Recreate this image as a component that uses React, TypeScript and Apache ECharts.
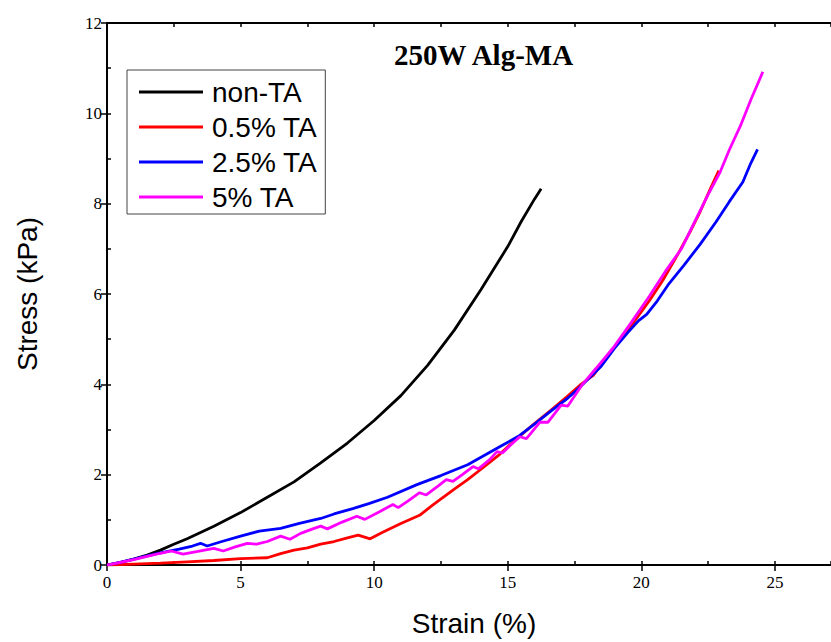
import React, { useEffect, useRef } from "react";
import * as echarts from "echarts";

const seriesNames = ["non-TA", "0.5% TA", "2.5% TA", "5% TA"];
const seriesColors = ["#000000", "#ff0000", "#0000ff", "#ff00ff"];

const nonTA: number[][] = [
  [0, 0], [0.5, 0.06], [1, 0.13], [1.5, 0.22], [2, 0.33], [2.5, 0.46], [3, 0.58],
  [4, 0.86], [5, 1.16], [6, 1.5], [7, 1.84], [8, 2.26], [9, 2.7], [10, 3.2],
  [11, 3.75], [12, 4.42], [13, 5.2], [14, 6.1], [15, 7.05], [15.5, 7.6], [16, 8.1], [16.25, 8.33],
];

const ta05: number[][] = [
  [0, 0], [1, 0.02], [2, 0.04], [3, 0.07], [4, 0.1], [5, 0.14], [6, 0.16], [6.5, 0.25],
  [7, 0.33], [7.5, 0.38], [8, 0.46], [8.5, 0.52], [9, 0.6], [9.4, 0.66], [9.85, 0.58],
  [10.3, 0.72], [11, 0.92], [11.7, 1.1], [12.2, 1.33], [13, 1.68], [13.5, 1.89], [14, 2.12],
  [14.7, 2.45], [15.3, 2.78], [16, 3.13], [16.6, 3.42], [17.2, 3.72], [17.7, 3.98], [18.2, 4.2],
  [18.9, 4.75], [19.5, 5.2], [20.3, 5.85], [20.8, 6.3], [21.35, 6.86], [21.8, 7.35], [22.2, 7.82],
  [22.6, 8.35], [22.9, 8.73],
];

const ta25: number[][] = [
  [0, 0], [0.5, 0.06], [1, 0.13], [1.5, 0.2], [2, 0.27], [2.7, 0.35], [3.2, 0.42], [3.5, 0.48],
  [3.75, 0.42], [4.3, 0.52], [5, 0.64], [5.7, 0.75], [6.5, 0.81], [7.2, 0.92], [8, 1.03],
  [8.5, 1.13], [9.2, 1.25], [9.8, 1.36], [10.5, 1.5], [11.6, 1.78], [12.5, 1.98], [13.5, 2.22],
  [14.2, 2.45], [14.8, 2.65], [15.4, 2.85], [16, 3.12], [16.6, 3.4], [17.2, 3.67], [17.6, 3.88],
  [18, 4.11], [18.5, 4.4], [19, 4.8], [19.5, 5.15], [19.9, 5.41], [20.2, 5.55], [20.6, 5.85],
  [21, 6.2], [21.6, 6.64], [22.2, 7.1], [22.8, 7.6], [23.3, 8.05], [23.8, 8.48], [24.1, 8.9],
  [24.35, 9.2],
];

const ta5: number[][] = [
  [0, 0], [0.5, 0.06], [1, 0.12], [1.5, 0.19], [2, 0.26], [2.4, 0.31], [2.85, 0.24], [3.4, 0.3],
  [4, 0.37], [4.35, 0.31], [4.8, 0.4], [5.25, 0.48], [5.6, 0.46], [6, 0.52], [6.5, 0.64],
  [6.85, 0.57], [7.25, 0.7], [7.7, 0.8], [8, 0.86], [8.25, 0.8], [8.8, 0.95], [9.35, 1.08],
  [9.65, 1.01], [10.2, 1.18], [10.7, 1.34], [10.9, 1.27], [11.3, 1.43], [11.7, 1.6], [11.95, 1.55],
  [12.4, 1.75], [12.7, 1.89], [12.95, 1.85], [13.3, 2.0], [13.7, 2.18], [13.9, 2.13], [14.3, 2.32],
  [14.6, 2.51], [14.8, 2.48], [15.1, 2.65], [15.45, 2.84], [15.7, 2.8], [16.2, 3.16], [16.5, 3.16],
  [17, 3.54], [17.25, 3.52], [17.8, 4.0], [18.3, 4.35], [18.95, 4.81], [19.6, 5.35], [20.3, 5.95],
  [20.9, 6.5], [21.5, 7.0], [22, 7.6], [22.5, 8.2], [22.95, 8.7], [23.3, 9.2], [23.7, 9.71],
  [24.1, 10.3], [24.55, 10.92],
];

const seriesData = [nonTA, ta05, ta25, ta5];

const titleText = "250W Alg-MA";
const xName = "Strain (%)";
const yName = "Stress (kPa)";

const X_MAX = 27.1;

export default function App() {
  const ref = useRef<HTMLDivElement>(null);
  useEffect(() => {
    if (!ref.current) return;
    const chart = echarts.init(ref.current, null, { renderer: "svg" });
    const serif = "'Liberation Serif', 'Times New Roman', serif";
    const sans = "'Liberation Sans', Arial, sans-serif";
    const labelStyle = { fontFamily: serif, fontSize: 17, color: "#000" };
    chart.setOption({
      animation: false,
      backgroundColor: "#fff",
      title: {
        text: titleText,
        left: 389,
        top: 35,
        textStyle: { fontFamily: serif, fontWeight: "bold", fontSize: 29, color: "#000" },
      },
      legend: {
        orient: "vertical",
        left: 127,
        top: 70,
        icon: "rect",
        itemWidth: 64,
        itemHeight: 3,
        itemGap: 7,
        padding: [8, 8, 3, 12],
        borderColor: "#444",
        borderWidth: 1,
        backgroundColor: "#fff",
        textStyle: { fontFamily: sans, fontSize: 28, color: "#000", lineHeight: 28, padding: [0, 0, 0, 4] },
        data: seriesNames,
      },
      grid: { left: 107, top: 23, right: 0, height: 546, containLabel: false },
      xAxis: [
        {
          type: "value",
          position: "bottom",
          min: 0,
          max: X_MAX,
          interval: 5,
          name: xName,
          nameLocation: "middle",
          nameGap: 44,
          nameTextStyle: { fontFamily: sans, fontSize: 28, color: "#000", padding: [0, 0, 0, 10] },
          axisLine: { show: true, onZero: false, lineStyle: { color: "#000", width: 2 } },
          axisTick: { show: true, inside: false, length: 6, lineStyle: { color: "#000", width: 1.5 } },
          axisLabel: { ...labelStyle, margin: 9, showMaxLabel: false },
          splitLine: { show: false },
        },
        {
          type: "value",
          position: "bottom",
          min: 0,
          max: X_MAX,
          interval: 2.5,
          axisLine: { show: false, onZero: false },
          axisTick: { show: true, inside: true, length: 4, lineStyle: { color: "#000", width: 1.5 } },
          axisLabel: { show: false },
          splitLine: { show: false },
        },
        {
          type: "value",
          position: "top",
          min: 0,
          max: X_MAX,
          interval: 2.5,
          axisLine: { show: true, onZero: false, lineStyle: { color: "#000", width: 2 } },
          axisTick: { show: true, inside: true, length: 4, lineStyle: { color: "#000", width: 1.5 } },
          axisLabel: { show: false },
          splitLine: { show: false },
        },
      ],
      yAxis: [
        {
          type: "value",
          position: "left",
          min: 0,
          max: 12,
          interval: 2,
          name: yName,
          nameLocation: "middle",
          nameGap: 66,
          nameRotate: 90,
          nameTextStyle: { fontFamily: sans, fontSize: 28, color: "#000" },
          axisLine: { show: true, onZero: false, lineStyle: { color: "#000", width: 2 } },
          axisTick: { show: true, inside: false, length: 6, lineStyle: { color: "#000", width: 1.5 } },
          axisLabel: { ...labelStyle, margin: 5 },
          splitLine: { show: false },
        },
        {
          type: "value",
          position: "left",
          min: 0,
          max: 12,
          interval: 1,
          axisLine: { show: false, onZero: false },
          axisTick: { show: true, inside: true, length: 4, lineStyle: { color: "#000", width: 1.5 } },
          axisLabel: { show: false },
          splitLine: { show: false },
        },
      ],
      series: seriesNames.map((name, i) => ({
        name,
        type: "line",
        xAxisIndex: 0,
        yAxisIndex: 0,
        data: seriesData[i],
        showSymbol: false,
        symbol: "none",
        smooth: false,
        color: seriesColors[i],
        lineStyle: { color: seriesColors[i], width: 2.8 },
        z: 2 + i,
      })),
    });
    return () => chart.dispose();
  }, []);
  return (
    <div
      ref={ref}
      style={{ position: "fixed", left: 0, top: 0, width: 831, height: 642, overflow: "hidden" }}
    />
  );
}
